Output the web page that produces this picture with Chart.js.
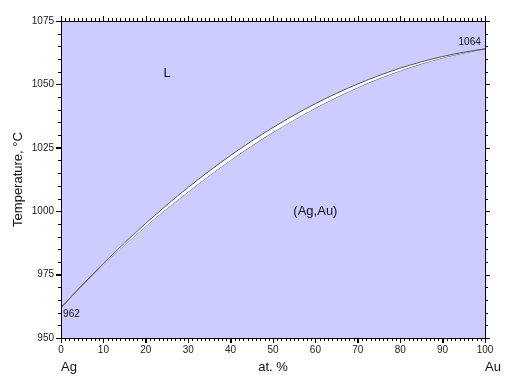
<!DOCTYPE html>
<html>
<head>
<meta charset="utf-8">
<script src="https://cdn.jsdelivr.net/npm/chart.js@4/dist/chart.umd.min.js"></script>
<style>
  html, body { margin: 0; padding: 0; background: #fff; }
  #wrap { width: 515px; height: 382px; }
</style>
</head>
<body>
<div id="wrap"><canvas id="phaseChart"></canvas></div>
<script>
// composition, at.% Au
const composition = [0,5,10,15,20,25,30,35,40,45,50,55,60,65,70,75,80,85,90,95,100];
// liquidus and solidus temperatures, deg C
const liquidus = [962,970.9,979.4,987.5,995.2,1002.5,1009.4,1015.9,1022,1027.7,1033,1037.9,1042.4,1046.5,1050.2,1053.5,1056.4,1058.9,1061,1062.7,1064];
const solidus  = [962,970.7,978.9,986.7,994.1,1001.1,1007.7,1014.1,1020.1,1025.8,1031.1,1036.1,1040.7,1044.9,1048.8,1052.3,1055.4,1058.1,1060.5,1062.4,1064];

const xTicks = [0,10,20,30,40,50,60,70,80,90,100];
const yTicks = [950,975,1000,1025,1050,1075];

// text placed in data coordinates
const regionLabels = [
  { text: "L", x: 25, y: 1054.5, size: 13, align: "center" },
  { text: "(Ag,Au)", x: 60, y: 1000, size: 13, align: "center" },
  { text: "962", x: 0.5, y: 959.5, size: 10, align: "left" },
  { text: "1064", x: 99, y: 1066.5, size: 10, align: "right" }
];

const FONT = "'Liberation Sans', Arial, sans-serif";

const frame = {
  id: "frame",
  beforeDraw(chart) {
    const { ctx, chartArea: a } = chart;
    ctx.save();
    ctx.fillStyle = "#ccccff";
    ctx.fillRect(a.left, a.top, a.right - a.left, a.bottom - a.top);
    ctx.restore();
  },
  afterDraw(chart) {
    const { ctx, chartArea: a } = chart;
    const xs = chart.scales.x, ys = chart.scales.y;
    ctx.save();
    ctx.strokeStyle = "#000";
    ctx.lineWidth = 1;
    ctx.beginPath();
    // minor ticks, plus the top and right sides
    for (let v = 0; v <= 100; v += 1) {
      const px = Math.round(xs.getPixelForValue(v)) + 0.5;
      const major = v % 10 === 0;
      ctx.moveTo(px, a.bottom); ctx.lineTo(px, a.bottom + (major ? 5 : 3));
      ctx.moveTo(px, a.top); ctx.lineTo(px, a.top - (major ? 5 : 3));
    }
    for (let v = 950; v <= 1075; v += 5) {
      const py = Math.round(ys.getPixelForValue(v)) + 0.5;
      const major = v % 25 === 0;
      ctx.moveTo(a.left, py); ctx.lineTo(a.left - (major ? 5 : 3), py);
      ctx.moveTo(a.right, py); ctx.lineTo(a.right + (major ? 5 : 3), py);
    }
    ctx.stroke();
    ctx.strokeRect(Math.round(a.left) + 0.5, Math.round(a.top) + 0.5,
      Math.round(a.right - a.left), Math.round(a.bottom - a.top));

    ctx.fillStyle = "#111";
    ctx.textBaseline = "middle";
    regionLabels.forEach(l => {
      ctx.font = l.size + "px " + FONT;
      ctx.textAlign = l.align;
      ctx.fillText(l.text, xs.getPixelForValue(l.x), ys.getPixelForValue(l.y));
    });

    ctx.font = "13px " + FONT;
    const yy = a.bottom + 29;
    ctx.textAlign = "left";
    ctx.fillText("Ag", xs.getPixelForValue(0), yy);
    ctx.fillText("Au", xs.getPixelForValue(100), yy);
    ctx.textAlign = "center";
    ctx.fillText("at. %", xs.getPixelForValue(50), yy);
    ctx.restore();
  }
};

new Chart(document.getElementById("phaseChart"), {
  type: "line",
  data: {
    datasets: [
      {
        label: "Liquidus",
        data: composition.map((c, i) => ({ x: c, y: liquidus[i] })),
        borderColor: "#555",
        borderWidth: 1,
        pointRadius: 0,
        cubicInterpolationMode: "monotone",
        fill: "+1",
        backgroundColor: "#ffffff"
      },
      {
        label: "Solidus",
        data: composition.map((c, i) => ({ x: c, y: solidus[i] })),
        borderColor: "#555",
        borderWidth: 1,
        pointRadius: 0,
        cubicInterpolationMode: "monotone",
        fill: false
      }
    ]
  },
  options: {
    responsive: true,
    maintainAspectRatio: false,
    animation: false,
    layout: { padding: { top: 21, right: 30, left: 0, bottom: 0 } },
    plugins: {
      legend: { display: false },
      tooltip: { enabled: false }
    },
    scales: {
      x: {
        type: "linear",
        min: 0, max: 100,
        afterFit(s) { s.height = 44; },
        afterBuildTicks(s) { s.ticks = xTicks.map(v => ({ value: v })); },
        grid: { drawOnChartArea: false, tickLength: 5, color: "#000" },
        border: { color: "#000" },
        ticks: { padding: 1, color: "#222", font: { family: FONT, size: 10 }, maxRotation: 0,
                 callback: v => String(v) }
      },
      y: {
        min: 950, max: 1075,
        afterFit(s) { s.width = 61; },
        afterBuildTicks(s) { s.ticks = yTicks.map(v => ({ value: v })); },
        grid: { drawOnChartArea: false, tickLength: 5, color: "#000" },
        border: { color: "#000" },
        ticks: { padding: 2, color: "#222", font: { family: FONT, size: 10 },
                 callback: v => String(v) },
        title: {
          display: true,
          text: "Temperature, °C",
          color: "#111",
          font: { family: FONT, size: 13 },
          padding: { top: 11, bottom: 0 }
        }
      }
    }
  },
  plugins: [frame]
});
</script>
</body>
</html>
